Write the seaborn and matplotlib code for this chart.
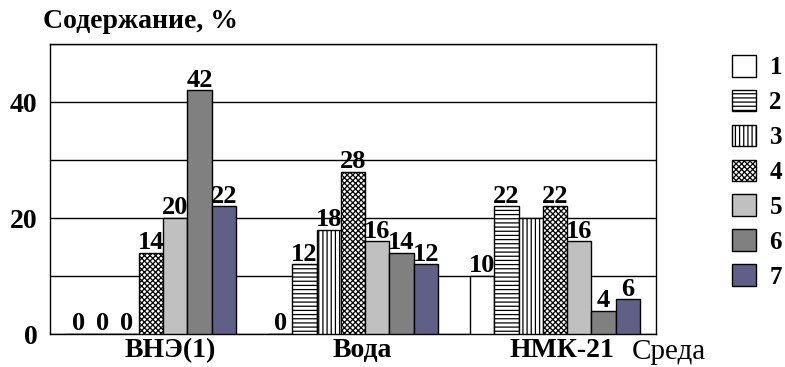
import numpy as np
import pandas as pd
import matplotlib
matplotlib.use("Agg")
import matplotlib.pyplot as plt
import matplotlib.patches as mpatches
from matplotlib.ticker import FixedLocator, FixedFormatter
import seaborn as sns

# Media and series
media = ["ВНЭ(1)", "Вода", "НМК-21"]
series = ["1", "2", "3", "4", "5", "6", "7"]

# Content (%) of each series in each medium
s1 = [0, 0, 10]
s2 = [0, 12, 22]
s3 = [0, 18, 20]
s4 = [14, 28, 22]
s5 = [20, 16, 16]
s6 = [42, 14, 4]
s7 = [22, 12, 6]
values = [s1, s2, s3, s4, s5, s6, s7]

# Whether the value is printed above each bar
shown = [
    [True, True, True],
    [True, True, True],
    [True, True, False],
    [True, True, True],
    [True, True, True],
    [True, True, True],
    [True, True, True],
]

y_ticks = [0, 10, 20, 30, 40, 50]
y_tick_labels = ["0", "", "20", "", "40", ""]

face_colors = ["white", "white", "white", "white", "#c0c0c0", "#808080", "#5f5f87"]
hatches = ["", "----", "||||", "xxxxxx", "", "", ""]

rows = []
for s, vals in zip(series, values):
    for m, v in zip(media, vals):
        rows.append({"medium": m, "series": s, "value": v})
df = pd.DataFrame(rows)

sns.set_style("white")
plt.rcParams["font.family"] = ["Liberation Serif", "DejaVu Serif"]
plt.rcParams["text.color"] = "black"
plt.rcParams["xtick.color"] = "black"
plt.rcParams["ytick.color"] = "black"
plt.rcParams["hatch.linewidth"] = 0.9

W, H = 785, 367
fig = plt.figure(figsize=(W / 100, H / 100), dpi=100)
ax = fig.add_axes([50 / W, 1 - 334 / H, (656 - 50) / W, (334 - 44) / H])

sns.barplot(
    data=df, x="medium", y="value", hue="series", order=media, hue_order=series,
    palette=dict(zip(series, face_colors)), edgecolor="black", linewidth=1.0,
    width=0.84, saturation=1, legend=False, ax=ax, zorder=3,
)

for cont, hatch, fc, flags in zip(ax.containers, hatches, face_colors, shown):
    for bar in cont.patches:
        bar.set_hatch(hatch)
        bar.set_facecolor(fc)
        bar.set_edgecolor("black")
    labels = [f"{v:g}" if f else "" for v, f in zip(cont.datavalues, flags)]
    ax.bar_label(cont, labels=labels, padding=-1, fontsize=19, fontweight="bold",
                 color="black")

ax.set_xlim(-0.5, 2.5)
ax.set_ylim(0, 50)
ax.yaxis.set_major_locator(FixedLocator(y_ticks))
ax.yaxis.set_major_formatter(FixedFormatter(y_tick_labels))
ax.yaxis.grid(True, color="black", linewidth=1.0)
ax.set_axisbelow(True)

# category names sit a little right of each group's centre
name_shift = [0.094, 0.045, 0.035]
ax.set_xticks([i + d for i, d in enumerate(name_shift)])
ax.set_xticklabels(media, fontsize=20, fontweight="bold")
ax.set_xticks([-0.5, 0.5, 1.5, 2.5], minor=True)
ax.tick_params(axis="x", which="major", length=0, pad=3)
ax.tick_params(axis="x", which="minor", length=6, width=1, direction="out", color="black")
ax.tick_params(axis="y", length=7, width=1, direction="out", color="black", pad=2,
               labelsize=20)
for lab in ax.get_yticklabels():
    lab.set_fontweight("bold")

for sp in ax.spines.values():
    sp.set_visible(True)
    sp.set_color("black")
    sp.set_linewidth(1.0)

ax.set_xlabel("")
ax.set_ylabel("")

fig.text(43 / W, 1 - 22 / H, "Содержание, %", fontsize=20, fontweight="bold",
         ha="left", va="center")
fig.text(632 / W, 1 - 352 / H, "Среда", fontsize=21, ha="left", va="center")

handles = [
    mpatches.Patch(facecolor=fc, edgecolor="black", hatch=h, linewidth=1.0)
    for fc, h in zip(face_colors, hatches)
]
fig.legend(handles, series, loc="upper left", bbox_to_anchor=(732 / W, 1 - 55 / H),
           frameon=False, prop={"weight": "bold", "size": 18},
           handlelength=0.95, handleheight=0.95, labelspacing=0.42, handletextpad=0.55,
           borderpad=0, borderaxespad=0)

fig.savefig("out.png", dpi=100)
